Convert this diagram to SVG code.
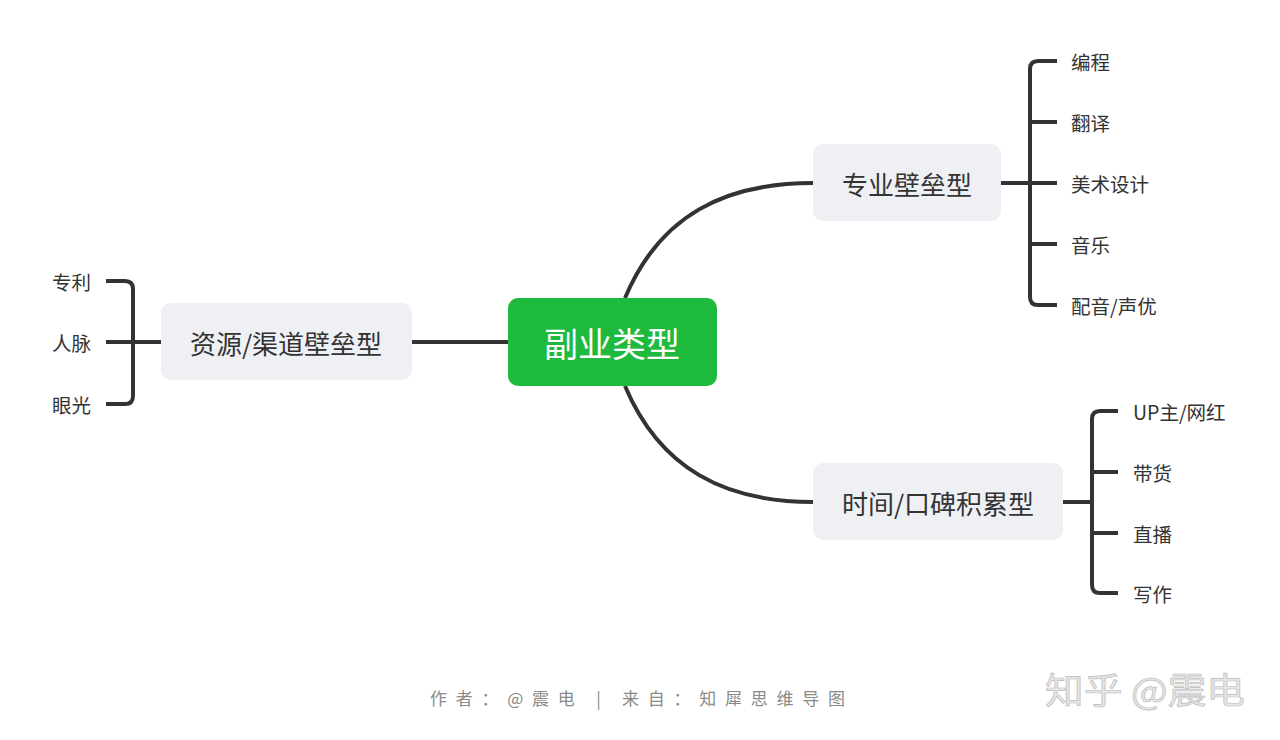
<svg xmlns="http://www.w3.org/2000/svg" width="1280" height="740" viewBox="0 0 1280 740">
<style>
.t{font-family:"Noto Sans CJK SC","Noto Sans",sans-serif;fill:#333;}
.sub{font-size:26px;dominant-baseline:central;text-anchor:middle;}
.leaf{font-size:19.5px;dominant-baseline:central;}
.c{fill:none;stroke:#333;stroke-width:4;stroke-linecap:butt;stroke-linejoin:round;}
.box{fill:#eef0f3;}
</style>
<rect width="1280" height="740" fill="#fff"/>
<g id="connectors">
<path class="c" d="M412,342 H508"/>
<path class="c" d="M625,298 C660,215 725,183 813,183"/>
<path class="c" d="M625,386 C660,469 725,502 813,502"/>
<path class="c" d="M161,342 H106 M106,281 H125 Q133,281 133,289 V396 Q133,404 125,404 H106"/>
<path class="c" d="M1001,183 H1057 M1057,61 H1038 Q1030,61 1030,69 V297 Q1030,305 1038,305 H1057 M1030,122 H1057 M1030,244 H1057"/>
<path class="c" d="M1063,502 H1092 M1118,411 H1100 Q1092,411 1092,419 V585 Q1092,593 1100,593 H1118 M1092,472 H1118 M1092,533 H1118"/>
</g>
<g id="root">
<rect x="508" y="298" width="209" height="88" rx="10" fill="#1eba3e"/>
<text class="t" x="612" y="342" font-size="34" style="fill:#fff" text-anchor="middle" dominant-baseline="central">副业类型</text>
</g>
<g id="n-left">
<rect class="box" x="161" y="303" width="251" height="77" rx="10"/>
<text class="t sub" x="286" y="342">资源/渠道壁垒型</text>
</g>
<g id="n-top">
<rect class="box" x="813" y="144" width="188" height="77" rx="10"/>
<text class="t sub" x="907" y="183">专业壁垒型</text>
</g>
<g id="n-bottom">
<rect class="box" x="813" y="463" width="250" height="77" rx="10"/>
<text class="t sub" x="938" y="502">时间/口碑积累型</text>
</g>
<g id="leaves-left">
<text class="t leaf" x="52" y="281">专利</text>
<text class="t leaf" x="52" y="342">人脉</text>
<text class="t leaf" x="52" y="404">眼光</text>
</g>
<g id="leaves-top">
<text class="t leaf" x="1071" y="61">编程</text>
<text class="t leaf" x="1071" y="122">翻译</text>
<text class="t leaf" x="1071" y="183">美术设计</text>
<text class="t leaf" x="1071" y="244">音乐</text>
<text class="t leaf" x="1071" y="305">配音/声优</text>
</g>
<g id="leaves-bottom">
<text class="t leaf" x="1133" y="411">UP主/网红</text>
<text class="t leaf" x="1133" y="472">带货</text>
<text class="t leaf" x="1133" y="533">直播</text>
<text class="t leaf" x="1133" y="593">写作</text>
</g>
<g id="footer">
<text x="430" y="697" font-family="Noto Sans CJK SC,sans-serif" font-size="17" fill="#8a8a8a" dominant-baseline="central" textLength="415" lengthAdjust="spacing">作者：@震电 | 来自：知犀思维导图</text>
<text x="1045" y="688" font-family="Noto Sans CJK SC,sans-serif" font-size="36" fill="#e6e6e6" stroke="#bdbdbd" stroke-width="0.7" dominant-baseline="central" textLength="200" lengthAdjust="spacingAndGlyphs">知乎 @震电</text>
</g>
</svg>
